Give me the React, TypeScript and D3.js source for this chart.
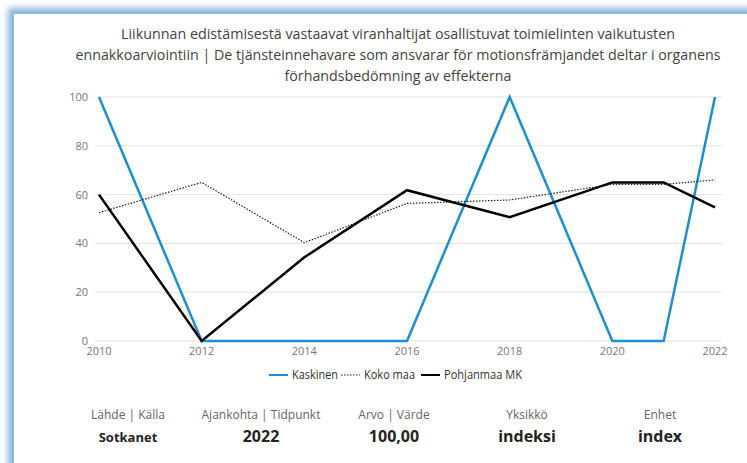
import { useEffect, useRef } from 'react';
import * as d3 from 'd3';

const titleLines = [
  'Liikunnan edistämisestä vastaavat viranhaltijat osallistuvat toimielinten vaikutusten',
  'ennakkoarviointiin | De tjänsteinnehavare som ansvarar för motionsfrämjandet deltar i organens',
  'förhandsbedömning av effekterna',
];
const titleWidths = [554, 645, 227];

const years = [2010, 2012, 2014, 2016, 2018, 2020, 2021, 2022];
const kaskinen = [100, 0, 0, 0, 100, 0, 0, 100];
const kokoMaa = [52.6, 65, 40.3, 56.4, 57.8, 64.2, 64.2, 66];
const pohjanmaa = [60, 0, 34.3, 61.8, 50.7, 65, 65, 54.8];

const xTicks = [2010, 2012, 2014, 2016, 2018, 2020, 2022];
const yTicks = [0, 20, 40, 60, 80, 100];

const seriesNames = ['Kaskinen', 'Koko maa', 'Pohjanmaa MK'];

const infoLabels = ['Lähde | Källa', 'Ajankohta | Tidpunkt', 'Arvo | Värde', 'Yksikkö', 'Enhet'];
const infoValues = ['Sotkanet', '2022', '100,00', 'indeksi', 'index'];

const width = 747;
const height = 463;

export default function App() {
  const svgRef = useRef<SVGSVGElement>(null);

  useEffect(() => {
    document.body.style.margin = '0';
    const svg = d3.select(svgRef.current);
    svg.selectAll('*').remove();

    const font = "'Open Sans', 'Noto Sans', sans-serif";

    // card with bluish shadow on top/left
    const defs = svg.append('defs');
    const blur = defs.append('filter').attr('id', 'card-blur')
      .attr('x', '-10%').attr('y', '-10%').attr('width', '120%').attr('height', '120%');
    blur.append('feGaussianBlur').attr('stdDeviation', 3);

    svg.append('rect').attr('width', width).attr('height', height).attr('fill', '#fff');
    svg.append('rect')
      .attr('x', 8).attr('y', 8).attr('width', 900).attr('height', 600)
      .attr('fill', '#86b6d9')
      .attr('filter', 'url(#card-blur)');
    svg.append('rect')
      .attr('x', 14).attr('y', 14).attr('width', 900).attr('height', 600)
      .attr('fill', '#fff');

    // title
    svg.append('g').selectAll('text')
      .data(titleLines)
      .enter().append('text')
      .attr('x', 398)
      .attr('y', (d, i) => 39 + i * 21)
      .attr('text-anchor', 'middle')
      .attr('textLength', (d, i) => titleWidths[i])
      .attr('lengthAdjust', 'spacingAndGlyphs')
      .style('font-family', font)
      .style('font-size', '15px')
      .style('fill', '#444')
      .text(d => d);

    const xScale = d3.scaleLinear().domain([2010, 2022]).range([99, 715]);
    const yScale = d3.scaleLinear().domain([0, 100]).range([341, 97]);

    // grid lines
    svg.append('g').selectAll('line')
      .data(yTicks)
      .enter().append('line')
      .attr('x1', 95)
      .attr('x2', 722)
      .attr('y1', d => yScale(d))
      .attr('y2', d => yScale(d))
      .style('stroke', '#e3e3e3')
      .style('stroke-width', 1);

    // y labels
    svg.append('g').selectAll('text')
      .data(yTicks)
      .enter().append('text')
      .attr('x', 88)
      .attr('y', d => yScale(d) + 4)
      .attr('text-anchor', 'end')
      .style('font-family', font)
      .style('font-size', '11px')
      .style('fill', '#777')
      .text(d => d);

    // x labels
    svg.append('g').selectAll('text')
      .data(xTicks)
      .enter().append('text')
      .attr('x', d => xScale(d))
      .attr('y', 355)
      .attr('text-anchor', 'middle')
      .style('font-family', font)
      .style('font-size', '11px')
      .style('fill', '#777')
      .text(d => d);

    const line = d3.line<number>()
      .x((d, i) => xScale(years[i]))
      .y(d => yScale(d));

    const plot = svg.append('g');
    plot.append('path')
      .datum(kaskinen)
      .attr('fill', 'none')
      .attr('stroke', '#1b8fd3')
      .attr('stroke-width', 2.5)
      .attr('d', line);

    plot.append('path')
      .datum(kokoMaa)
      .attr('fill', 'none')
      .attr('stroke', '#222')
      .attr('stroke-width', 1.2)
      .attr('stroke-dasharray', '1.5,1.5')
      .attr('d', line);

    plot.append('path')
      .datum(pohjanmaa)
      .attr('fill', 'none')
      .attr('stroke', '#000')
      .attr('stroke-width', 2.5)
      .attr('d', line);

    // legend
    const legendItems = [
      { name: seriesNames[0], x: 269, tw: 46, color: '#1b8fd3', dash: null, w: 2 },
      { name: seriesNames[1], x: 341, tw: 51, color: '#222', dash: '1.5,1.5', w: 1.2 },
      { name: seriesNames[2], x: 421, tw: 78, color: '#000', dash: null, w: 2 },
    ];
    const legend = svg.append('g');
    legendItems.forEach(item => {
      legend.append('line')
        .attr('x1', item.x).attr('x2', item.x + 19)
        .attr('y1', 375).attr('y2', 375)
        .attr('stroke', item.color)
        .attr('stroke-width', item.w)
        .attr('stroke-dasharray', item.dash);
      legend.append('text')
        .attr('x', item.x + 23)
        .attr('y', 379)
        .attr('textLength', item.tw)
        .attr('lengthAdjust', 'spacingAndGlyphs')
        .style('font-family', font)
        .style('font-size', '12px')
        .style('fill', '#333')
        .text(item.name);
    });

    // info cards
    const colX = d3.scalePoint<string>().domain(infoLabels).range([128, 660]);
    const info = svg.append('g');
    infoLabels.forEach((label, i) => {
      info.append('text')
        .attr('x', colX(label)!)
        .attr('y', 419)
        .attr('text-anchor', 'middle')
        .style('font-family', font)
        .style('font-size', '12px')
        .style('fill', '#666')
        .text(label);
      info.append('text')
        .attr('x', colX(label)!)
        .attr('y', 442)
        .attr('text-anchor', 'middle')
        .style('font-family', font)
        .style('font-size', i === 0 ? '13px' : '16px')
        .style('font-weight', 'bold')
        .style('fill', '#252423')
        .text(infoValues[i]);
    });
  }, []);

  return <svg ref={svgRef} width={width} height={height} style={{ display: 'block' }} />;
}
